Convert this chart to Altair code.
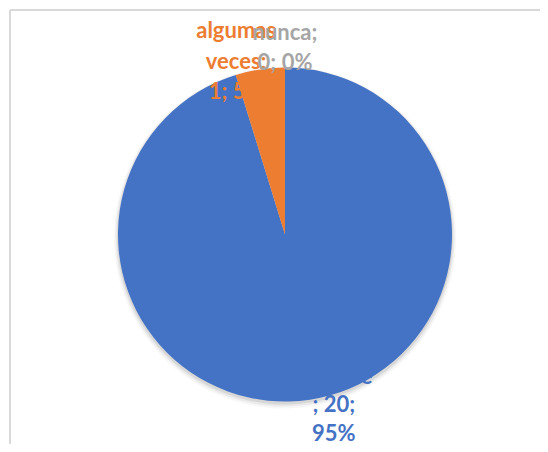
import altair as alt
import pandas as pd

categories = ["siempre", "algumas veces", "nunca"]
values = [20, 1, 0]
percents = ["95%", "5%", "0%"]
colors = ["#4472C4", "#ED7D31", "#A5A5A5"]
# wrapped data labels as shown by the chart
label_lines = [
    ["siempre", f"; {values[0]};", percents[0]],
    ["algumas", "veces;", f"{values[1]}; {percents[1]}"],
    ["nunca;", f"{values[2]}; {percents[2]}"],
]

df = pd.DataFrame({
    "cat": categories,
    "value": values,
    "idx": list(range(len(categories))),
    "label": ["\n".join(l) for l in label_lines],
})

W, H = 532, 436
CX, CY, R = 277, 226.5, 167
LH = 30.5

base = alt.Chart(df)
color_scale = alt.Scale(domain=categories, range=colors)
theta = alt.Theta("value:Q", stack=True)
order = alt.Order("idx:Q")

frame_top = base.mark_rule(color="#D9D9D9", strokeWidth=2).encode(
    x=alt.value(2), x2=alt.value(W), y=alt.value(2))
frame_left = base.mark_rule(color="#D9D9D9", strokeWidth=2).encode(
    x=alt.value(2), y=alt.value(2), y2=alt.value(H))

shadows = []
for dr, dy, op in [(4, 3, 0.03), (2.5, 2.5, 0.05), (1, 2, 0.08)]:
    shadows.append(
        base.mark_arc(radius=R + dr, color="#000000", opacity=op).encode(
            theta=theta, order=order,
            x=alt.value(CX), y=alt.value(CY + dy))
    )

pie = base.mark_arc(radius=R).encode(
    theta=theta, order=order,
    color=alt.Color("cat:N", scale=color_scale, legend=None),
    x=alt.value(CX), y=alt.value(CY),
)


def label_layer(cat, radius, theta_offset, dy, lh):
    return base.mark_text(radius=radius, thetaOffset=theta_offset, dy=dy,
                          font="Lato", fontSize=22, fontWeight="bold", lineBreak="\n",
                          lineHeight=lh, align="center", baseline="middle").encode(
        theta=theta, order=order,
        color=alt.Color("cat:N", scale=color_scale, legend=None),
        text="label:N",
        opacity=alt.condition(alt.datum.cat == cat, alt.value(1), alt.value(0)),
        x=alt.value(CX), y=alt.value(CY),
    )


lab_orange = label_layer("algumas veces", 179.6, -0.1257, -LH, LH)
lab_gray = label_layer("nunca", 186.5, 0, -LH / 2, LH)
lab_blue = label_layer("siempre", 179.6, -0.1257, -LH, 28.5)

chart = alt.layer(frame_top, frame_left, *shadows, pie,
                  lab_blue, lab_orange, lab_gray).properties(
    width=W, height=H, padding=0, autosize=alt.AutoSizeParams(type="none"),
    background="white",
).configure_view(stroke=None)

chart.save("out.html", embed_options={"renderer": "svg", "actions": False})
